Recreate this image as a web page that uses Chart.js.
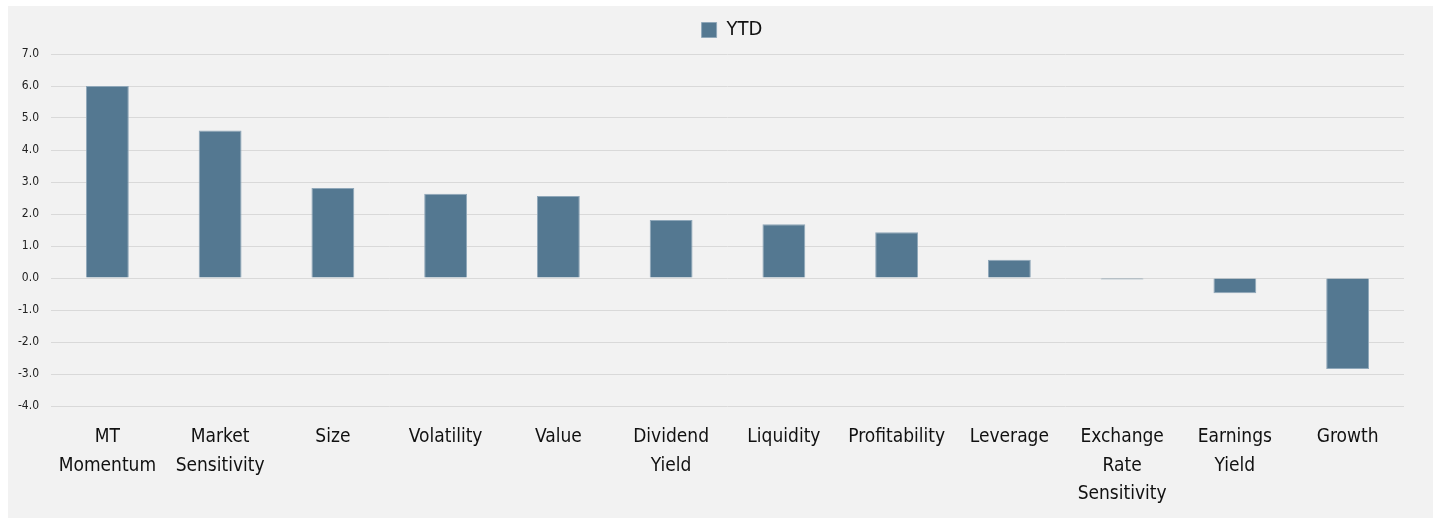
<!DOCTYPE html>
<html>
<head>
<meta charset="utf-8">
<script src="https://cdn.jsdelivr.net/npm/chart.js@4.4.1/dist/chart.umd.min.js"></script>
<style>
  body { margin: 0; background: #ffffff; }
  .panel { position: absolute; left: 8px; top: 6px; width: 1425px; height: 512px; background: #f2f2f2; }
</style>
</head>
<body>
<div class="panel"><canvas id="factors"></canvas></div>
<script>
(function () {
    "use strict";

    // Data
    var categories = [
        ["MT", "Momentum"], ["Market", "Sensitivity"], "Size", "Volatility", "Value",
        ["Dividend", "Yield"], "Liquidity", "Profitability", "Leverage",
        ["Exchange", "Rate", "Sensitivity"], ["Earnings", "Yield"], "Growth"
    ];
    var seriesName = "YTD";
    var ytdValues = [6.0, 4.61, 2.81, 2.63, 2.56, 1.81, 1.68, 1.43, 0.57, -0.05, -0.48, -2.84];
    var yMin = -4, yMax = 7, yStep = 1;

    var labelFont = "'Liberation Sans Narrow', 'DejaVu Sans Condensed', 'Roboto', sans-serif";

    Chart.defaults.color = "#1a1a1a";
    Chart.defaults.font.family = labelFont;

    // nudge the legend so it sits where the original one does
    var legendShift = {
        id: "legendShift",
        afterLayout: function (chart) {
            if (chart.legend) {
                chart.legend.left += 26;
                chart.legend.right += 26;
                chart.legend.top -= 4;
                chart.legend.bottom -= 4;
            }
        }
    };

    var ctx = document.getElementById("factors").getContext("2d");
    var factorChart = new Chart(ctx, {
        type: "bar",
        data: {
            labels: categories,
            datasets: [{
                label: seriesName,
                data: ytdValues,
                backgroundColor: "#547891",
                borderColor: "#8fa7b9",
                borderWidth: 1,
                barPercentage: 0.38,
                categoryPercentage: 1.0
            }]
        },
        plugins: [legendShift],
        options: {
            responsive: true,
            maintainAspectRatio: false,
            animation: false,
            layout: { padding: { left: 0, right: 29, top: 7, bottom: 0 } },
            plugins: {
                tooltip: { enabled: false },
                legend: {
                    position: "top",
                    labels: {
                        boxWidth: 15,
                        boxHeight: 15,
                        padding: 11,
                        font: { size: 20 },
                        color: "#111111"
                    }
                }
            },
            scales: {
                x: {
                    afterFit: function (scale) { scale.height = 112; },
                    grid: { display: false, drawTicks: false },
                    border: { display: false },
                    ticks: {
                        maxRotation: 0,
                        autoSkip: false,
                        padding: 17,
                        font: { size: 19, lineHeight: 1.5 },
                        color: "#111111"
                    }
                },
                y: {
                    min: yMin,
                    max: yMax,
                    afterFit: function (scale) { scale.width = 43; },
                    grid: { color: "#d9d9d9", lineWidth: 1, drawTicks: false },
                    border: { display: false },
                    ticks: {
                        stepSize: yStep,
                        padding: 12,
                        font: { size: 12 },
                        color: "#222222",
                        callback: function (v) { return v.toFixed(1); }
                    }
                }
            }
        }
    });
})();
</script>
</body>
</html>
